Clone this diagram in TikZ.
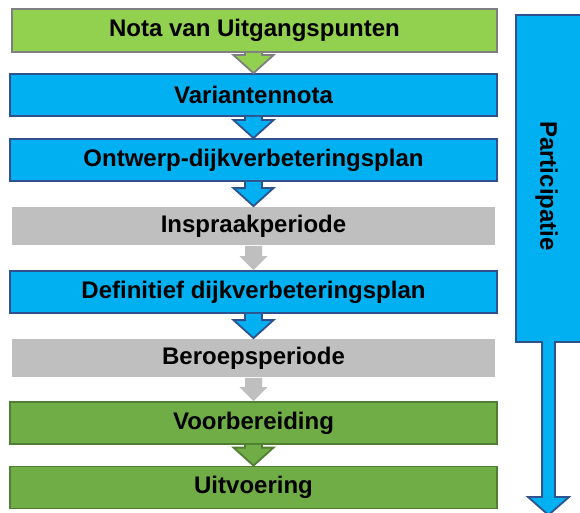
\documentclass[tikz,border=0pt]{standalone}
\usepackage{fontspec}
\setmainfont{Liberation Sans}
\usetikzlibrary{calc}
\definecolor{lgreen}{HTML}{92D050}
\definecolor{lgreenb}{HTML}{7F7F7F}
\definecolor{cblue}{HTML}{00B0F0}
\definecolor{cblueb}{HTML}{2F528F}
\definecolor{dgreen}{HTML}{70AD47}
\definecolor{dgreenb}{HTML}{507E32}
\definecolor{cgray}{HTML}{BFBFBF}
\tikzset{
  box/.style={rectangle, inner sep=0pt, minimum width=487pt, minimum height=42pt,
    line width=1.8pt, font=\fontsize{24}{28}\selectfont\bfseries, text=black},
  lgbox/.style={box, fill=lgreen, draw=lgreenb, minimum width=485pt, minimum height=43pt},
  bluebox/.style={box, fill=cblue, draw=cblueb},
  graybox/.style={box, fill=cgray, minimum width=483pt, minimum height=38pt},
  dgbox/.style={box, fill=dgreen, draw=dgreenb},
}
% #1 fill, #2 border (or none), #3 from, #4 to, #5 head half width, #6 head height
\newcommand\blockarr[6]{%
  \fill[#1] let \p1=(#3.south), \p2=(#4.north) in
    (\x2-8.5pt,\y1) -- (\x2-8.5pt,\y2+#6) -- (\x2-#5,\y2+#6) -- (\x2,\y2)
    -- (\x2+#5,\y2+#6) -- (\x2+8.5pt,\y2+#6) -- (\x2+8.5pt,\y1) -- cycle;
  \draw[#2, line width=1.8pt, line join=miter] let \p1=(#3.south), \p2=(#4.north) in
    (\x2-8.5pt,\y1) -- (\x2-8.5pt,\y2+#6) -- (\x2-#5,\y2+#6) -- (\x2,\y2)
    -- (\x2+#5,\y2+#6) -- (\x2+8.5pt,\y2+#6) -- (\x2+8.5pt,\y1);
}
\begin{document}
\begin{tikzpicture}[x=1pt,y=-1pt]
\useasboundingbox (0,0) rectangle (580,513);
\fill[white] (0,0) rectangle (580,513);

\node[lgbox]   (b1) at (254.5,30.5) {Nota van Uitgangspunten};
\node[bluebox] (b2) at (253.5,95)   {Variantennota};
\node[bluebox] (b3) at (253.5,160)  {Ontwerp-dijkverbeteringsplan};
\node[graybox] (b4) at (253.5,226)  {Inspraakperiode};
\node[bluebox] (b5) at (253.5,292)  {Definitief dijkverbeteringsplan};
\node[graybox] (b6) at (253.5,358)  {Beroepsperiode};
\node[dgbox]   (b7) at (253.5,423)  {Voorbereiding};
\node[dgbox]   (b8) at (253.5,487.5){Uitvoering};

\blockarr{lgreen}{lgreenb}{b1}{b2}{20pt}{18pt}
\blockarr{cblue}{cblueb}{b2}{b3}{20pt}{18pt}
\blockarr{cblue}{cblueb}{b3}{b4}{20pt}{18pt}
\blockarr{cgray}{draw=none}{b4}{b5}{14pt}{14pt}
\blockarr{cblue}{cblueb}{b5}{b6}{20pt}{18pt}
\blockarr{cgray}{draw=none}{b6}{b7}{14pt}{14pt}
\blockarr{dgreen}{dgreenb}{b7}{b8}{20pt}{18pt}

% Participatie arrow
\draw[fill=cblue, draw=cblueb, line width=1.8pt, line join=miter]
  (516,15) -- (583,15) -- (583,342) -- (555,342) -- (555,497) -- (569,497)
  -- (548.5,515) -- (528,497) -- (542,497) -- (542,342) -- (516,342) -- cycle;
\node[rotate=-90, inner sep=0pt, font=\fontsize{24}{28}\selectfont\bfseries, text=black]
  (part) at (546.5,186) {Participatie};
\end{tikzpicture}
\end{document}
